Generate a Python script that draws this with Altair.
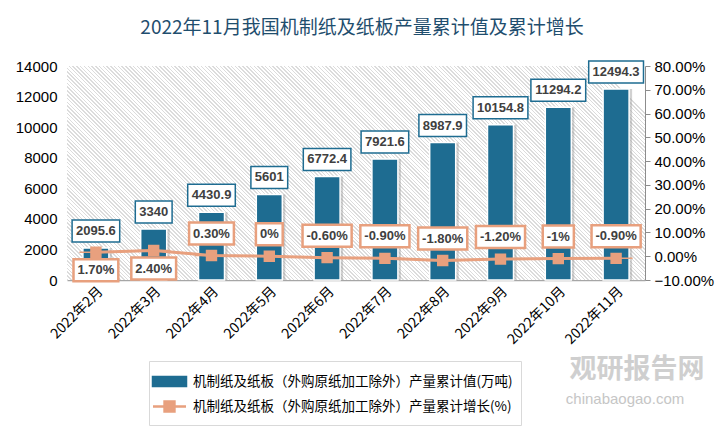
import altair as alt
import pandas as pd

# ---------------- data ----------------
months = ["2022年2月", "2022年3月", "2022年4月", "2022年5月", "2022年6月",
          "2022年7月", "2022年8月", "2022年9月", "2022年10月", "2022年11月"]
output_values = [2095.6, 3340, 4430.9, 5601, 6772.4, 7921.6, 8987.9, 10154.8, 11294.2, 12494.3]
output_labels = ["2095.6", "3340", "4430.9", "5601", "6772.4", "7921.6", "8987.9",
                 "10154.8", "11294.2", "12494.3"]
growth_values = [1.7, 2.4, 0.3, 0, -0.6, -0.9, -1.8, -1.2, -1, -0.9]
growth_labels = ["1.70%", "2.40%", "0.30%", "0%", "-0.60%", "-0.90%", "-1.80%",
                 "-1.20%", "-1%", "-0.90%"]
series_names = ["机制纸及纸板（外购原纸加工除外）产量累计值(万吨)",
                "机制纸及纸板（外购原纸加工除外）产量累计增长(%)"]
left_ticks = [0, 2000, 4000, 6000, 8000, 10000, 12000, 14000]
right_ticks = [-10, 0, 10, 20, 30, 40, 50, 60, 70, 80]
title_text = "2022年11月我国机制纸及纸板产量累计值及累计增长"
watermark_texts = ["观研报告网", "chinabaogao.com"]

# ---------------- styles ----------------
BLUE = "#1e6c91"
ORANGE = "#e8a07e"
CJK = "Noto Sans CJK SC"
NUM = "Liberation Sans"
W, H = 578, 214

CHAR_W = {"-": 4.3, ".": 3.6, "%": 11.6}
BOX_H = 22


def box_width(s):
    return sum(CHAR_W.get(c, 7.2) for c in s) + 8


def box_shape(w):
    r = BOX_H / w
    return f"M-1,{-r:.4f}L1,{-r:.4f}L1,{r:.4f}L-1,{r:.4f}Z"


df = pd.DataFrame({"month": months, "value": output_values, "vlabel": output_labels,
                   "growth": growth_values, "glabel": growth_labels})
df["s1"] = series_names[0]
df["s2"] = series_names[1]
df["vw"] = [box_width(s) for s in output_labels]
df["vshape"] = [box_shape(w) for w in df["vw"]]
df["vsize"] = df["vw"] ** 2
df["gw"] = [box_width(s) for s in growth_labels]
df["gshape"] = [box_shape(w) for w in df["gw"]]
df["gsize"] = df["gw"] ** 2
df["below"] = df["growth"] > 1

# hatch gradient for plot background ("\" stripes, 4px horizontal period)
k = H / W
p2x, p2y = 1 + k * k, 1 - k * (1 + k * k)
n_periods = (W + H) // 4
stops = []
for i in range(n_periods):
    a = i / n_periods
    b = (i + 0.4) / n_periods
    c = (i + 1) / n_periods
    stops += [{"offset": a, "color": "#dcdcdc"}, {"offset": b, "color": "#dcdcdc"},
              {"offset": b, "color": "#ffffff"}, {"offset": c, "color": "#ffffff"}]
hatch = {"gradient": "linear", "x1": 0, "y1": 1, "x2": p2x, "y2": p2y, "stops": stops}

LEG_RECT = "M-1.5,-0.4H1.5V0.4H-1.5Z"
LEG_LINE = "M-1.5,0H1.5M-0.45,-0.45H0.45V0.45H-0.45Z"

fill_scale = alt.Scale(domain=series_names, range=[BLUE, ORANGE])
stroke_scale = alt.Scale(domain=series_names, range=[BLUE, ORANGE])
shape_scale = alt.Scale(domain=series_names, range=[LEG_RECT, LEG_LINE])

legend = alt.Legend(title=None, orient="none", legendX=82, legendY=295,
                    direction="vertical", labelFont=CJK, labelFontSize=13.5,
                    labelColor="#000000", symbolSize=484, symbolStrokeWidth=2.5,
                    labelOffset=11, rowPadding=3, padding=8, labelLimit=0,
                    strokeColor="#d9d9d9", fillColor="white")

x_axis = alt.Axis(labelAngle=-45, labelFont=CJK, labelFontSize=14, labelColor="#000000",
                  ticks=False, domainColor="#a6a6a6", domainWidth=1.5, title=None,
                  labelPadding=4)
x_enc = alt.X("month:N", sort=months, axis=x_axis,
              scale=alt.Scale(paddingInner=0.55, paddingOuter=0.275))

left_scale = alt.Scale(domain=[0, 14000], nice=False, zero=True)
left_axis = alt.Axis(values=left_ticks, grid=False, domain=False, ticks=False,
                     labelPadding=10, labelFont=NUM, labelFontSize=15, format="d",
                     labelColor="#000000", title=None)
right_scale = alt.Scale(domain=[-10, 80], nice=False, zero=False)
right_axis = alt.Axis(orient="right", values=right_ticks, grid=False,
                      domainColor="#8c8c8c", tickColor="#8c8c8c", tickSize=5,
                      labelPadding=4, labelFont=NUM, labelFontSize=15,
                      labelColor="#000000", title=None,
                      labelExpr="format(datum.value, '.2f') + '%'")

base = alt.Chart(df)

background = alt.Chart(df).mark_rect(fill=hatch).encode(
    y=alt.YDatum(0, scale=left_scale, axis=left_axis),
    y2=alt.Y2Datum(14000),
)

y_left = alt.Y("value:Q", scale=left_scale, axis=left_axis)

shadow = base.mark_bar(color="#9a9a9a", opacity=0.45, xOffset=3).encode(x=x_enc, y=y_left)
bars = base.mark_bar(stroke="white", strokeWidth=1.5).encode(
    x=x_enc, y=y_left,
    fill=alt.Fill("s1:N", scale=fill_scale, legend=legend),
)
bar_boxes = base.mark_point(filled=True, fill="white", stroke=BLUE, strokeWidth=1.5,
                            opacity=1, yOffset=-17).encode(
    x=x_enc, y=y_left,
    shape=alt.Shape("vshape:N", scale=None),
    size=alt.Size("vsize:Q", scale=None),
)
bar_text = base.mark_text(dy=-17, font=NUM, fontSize=13, fontWeight="bold",
                          color="#404040").encode(x=x_enc, y=y_left, text="vlabel:N")

left = alt.layer(background, shadow, bars, bar_boxes, bar_text)

y_right = alt.Y("growth:Q", scale=right_scale, axis=right_axis)

line = base.mark_line(color=ORANGE, strokeWidth=3).encode(x=x_enc, y=y_right)
points = base.mark_point(filled=True, size=484, strokeWidth=1.5, opacity=1).encode(
    x=x_enc, y=y_right,
    fill=alt.Fill("s2:N", scale=fill_scale, legend=legend),
    stroke=alt.Stroke("s2:N", scale=stroke_scale, legend=legend),
    shape=alt.Shape("s2:N", scale=shape_scale, legend=legend),
)


def growth_label_layers(cond, off):
    sub = base.transform_filter(cond)
    boxes = sub.mark_point(filled=True, fill="white", stroke=ORANGE, strokeWidth=2.5,
                           opacity=1, yOffset=off).encode(
        x=x_enc, y=y_right,
        shape=alt.Shape("gshape:N", scale=None),
        size=alt.Size("gsize:Q", scale=None),
    )
    texts = sub.mark_text(dy=off, font=NUM, fontSize=13, fontWeight="bold",
                          color="#404040").encode(x=x_enc, y=y_right, text="glabel:N")
    return [boxes, texts]


above = growth_label_layers("!datum.below", -22)
below = growth_label_layers("datum.below", 18)

wm_df = pd.DataFrame({"t": watermark_texts})
wm1 = alt.Chart(wm_df).transform_filter(alt.datum.t == watermark_texts[0]).mark_text(
    font=CJK, fontSize=27, fontWeight="bold", color="#c4c4c4", opacity=0.8
).encode(x=alt.value(570), y=alt.value(304), text="t:N")
wm2 = alt.Chart(wm_df).transform_filter(alt.datum.t == watermark_texts[1]).mark_text(
    font=NUM, fontSize=15, color="#b8b8b8", opacity=0.8
).encode(x=alt.value(558), y=alt.value(333), text="t:N")

right = alt.layer(line, points, *above, *below, wm1, wm2)

chart = alt.layer(left, right).resolve_scale(y="independent").properties(
    width=W, height=H,
    autosize=alt.AutoSizeParams(type="none"),
    padding={"left": 59, "top": 58, "right": 73, "bottom": 149},
    title=alt.TitleParams(title_text, font=CJK, fontSize=19, fontWeight="normal",
                          color="#1f4e6e", anchor="middle", dx=6, offset=20),
    background="white",
).configure_view(stroke=None)

chart.save("out.html", embed_options={"renderer": "svg", "actions": False})
